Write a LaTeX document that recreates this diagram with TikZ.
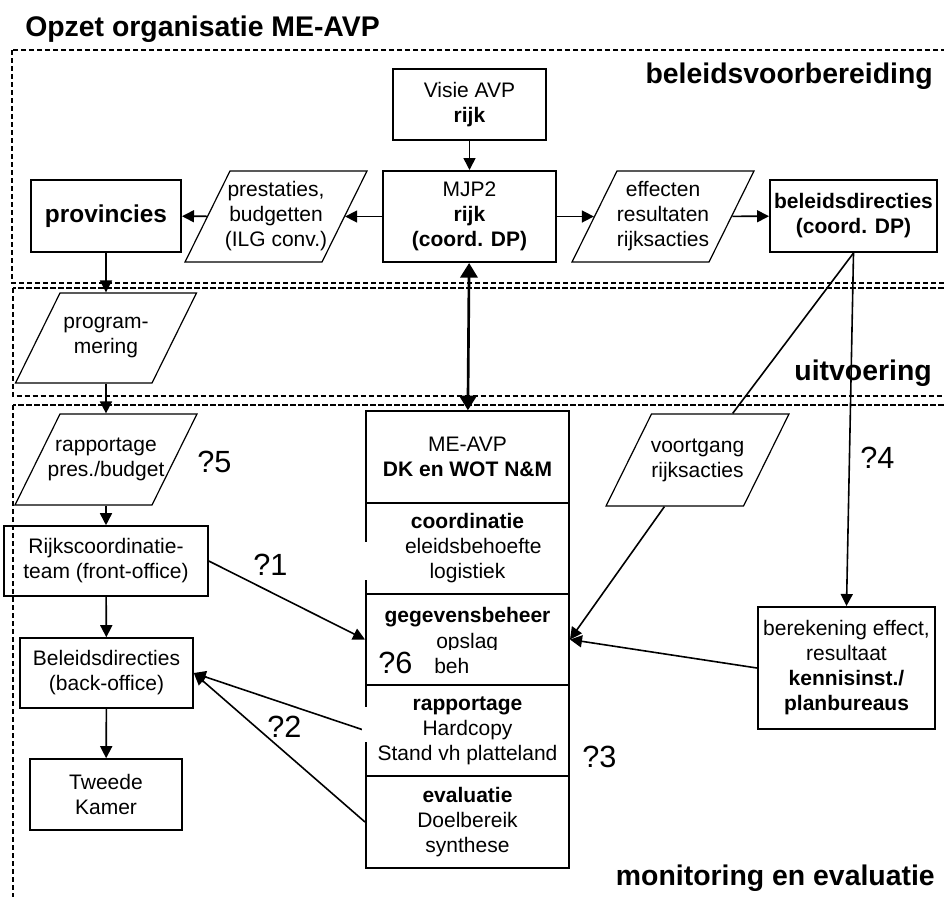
\documentclass[tikz,border=0pt]{standalone}
\usepackage{fontspec}
\setmainfont{Liberation Sans}
\usetikzlibrary{shapes.geometric,arrows.meta}
\newcommand\txt{\fontsize{15.75}{18.75}\selectfont}
\newcommand\bigtxt{\fontsize{21.3}{25}\selectfont\bfseries}
\newcommand\qtxt{\fontsize{23}{27}\selectfont}

\begin{document}
\begin{tikzpicture}[
    x=0.75pt, y=-0.75pt,
    >={Triangle[length=9pt,width=9pt]},
    box/.style={rectangle, draw, line width=1.5pt, align=center, font=\txt, inner sep=0pt},
    cell/.style={box, minimum width=152.25pt, minimum height=68.6pt},
    iobox/.style={trapezium, trapezium left angle=63.7, trapezium right angle=116.3,
        draw, fill=white, line width=0.9pt, inner xsep=34.5pt, inner ysep=0pt, text height=34.125pt, text depth=34.125pt},
    every label/.style={font=\txt, align=center, inner sep=0pt, text height=, text depth=},
    zone/.style={draw, line width=1.5pt, dash pattern=on 4pt off 2pt},
    zonetitle/.style={font=\bigtxt, anchor=base east, inner sep=0pt},
    flow/.style={->, line width=1.2pt},
    qmark/.style={font=\qtxt, anchor=base west, inner sep=0pt}
]
\clip (0,0) rectangle (944,896);

\draw[zone] (12,50) rectangle (950,283);
\draw[zone] (12.5,288) rectangle (950,396);
\draw[zone] (12.5,405) rectangle (950,905);

\node[font=\bigtxt, anchor=base west, inner sep=0pt] (title) at (25,36) {Opzet organisatie ME-AVP};
\node[zonetitle] (zone1) at (933,83) {beleidsvoorbereiding};
\node[zonetitle] (zone2) at (932,380) {uitvoering};
\node[zonetitle] (zone3) at (935,885) {monitoring en evaluatie};

\node[box, minimum width=114.75pt, minimum height=53.25pt] (visie) at (469.5,104.5) {Visie AVP\\\textbf{rijk}};
\node[box, minimum width=129.75pt, minimum height=68.25pt] (mjp) at (469.5,216.5) {MJP2\\\textbf{rijk}\\\textbf{(coord. DP)}};
\node[iobox, label=center:{prestaties,\\budgetten\\(ILG conv.)}] (prest) at (276,216.5) {};
\node[box, font=\fontsize{18.3}{22}\selectfont\bfseries, minimum width=112.5pt, minimum height=54pt] (prov) at (106,216) {provincies};
\node[iobox, label=center:{effecten\\resultaten\\rijksacties}] (eff) at (663,216.5) {};
\node[box, font=\txt\bfseries, minimum width=125.25pt, minimum height=54pt] (bd) at (853.5,216) {beleidsdirecties\\(coord. DP)};

\node[iobox, text height=33.75pt, text depth=33.75pt, label=center:{program-\\mering}] (prog) at (106,338) {};
\node[iobox, label=center:{rapportage\\pres./budget}] (rapp) at (106,459.5) {};
\node[box, line width=1.2pt, minimum width=153pt, minimum height=52.5pt] (rc) at (106,561) {Rijkscoordinatie-\\team (front-office)};
\node[box, line width=1.2pt, minimum width=129.75pt, minimum height=52.5pt] (bo) at (106.5,673) {Beleidsdirecties\\(back-office)};
\node[box, line width=1.2pt, minimum width=114pt, minimum height=53.25pt] (tk) at (106,794.5) {Tweede\\Kamer};

\node[cell] (me) at (467.5,457) {ME-AVP\\\textbf{DK en WOT N\&M}};
\node[cell] (coord) at (467.5,548.5) {\textbf{coordinatie}\\\hphantom{b}eleidsbehoefte\\logistiek};
\node[cell] (geg) at (467.5,639.5) {};
\node[cell] (rap) at (467.5,730.5) {\textbf{rapportage}\\Hardcopy\\Stand vh platteland};
\node[cell] (eva) at (467.5,822) {\textbf{evaluatie}\\Doelbereik\\synthese};
\node[font=\txt\bfseries, anchor=base, inner sep=0pt] (gegtitle) at (467.5,622) {gegevensbeheer};
\begin{scope}
\clip (420,625) rectangle (520,649.5);
\node[font=\txt, anchor=base west, inner sep=0pt] (opslag) at (436,648) {opslag};
\end{scope}
\node[font=\txt, anchor=base west, inner sep=0pt] (beh) at (434,673) {beh};

\node[iobox, text height=34.5pt, text depth=34.5pt, label=center:{voortgang\\rijksacties}] (vg) at (697.5,460) {};
\node[box, minimum width=132.75pt, minimum height=91.5pt] (bk) at (846.5,668) {berekening effect,\\resultaat\\\textbf{kennisinst./}\\\textbf{planbureaus}};

\node[qmark] (q1) at (253,575) {?1};
\node[qmark] (q2) at (267,737) {?2};
\node[qmark] (q3) at (582,767) {?3};
\node[qmark] (q4) at (860,468) {?4};
\node[qmark] (q5) at (197,472) {?5};
\node[qmark] (q6) at (378,673) {?6};

\draw[flow] (visie) -- (mjp);
\draw[flow] (mjp) -- (prest);
\draw[flow] (prest) -- (prov);
\draw[flow] (mjp) -- (eff);
\draw[flow] (eff) -- (bd);
\draw[flow] (prov) -- (prog);
\draw[flow] (prog) -- (rapp);
\draw[flow] (rapp) -- (rc);
\draw[flow] (rc) -- (bo);
\draw[flow] (bo) -- (tk);
\draw[<->, line width=2pt, >={Triangle[length=11pt,width=13pt]}] (mjp) -- (me);
\draw[flow] (rc.east) -- (geg.west);
\draw[flow] (rap.west) -- (bo.east);
\draw[flow] (eva.west) -- (bo.east);
\draw[line width=1.2pt] (bd.south) -- (vg);
\draw[flow] (vg) -- (geg.east);
\draw[flow] (bd.south) -- (bk.north);
\draw[flow] (bk.west) -- (geg.east);

\fill[white] (355,542) rectangle (402,580);
\fill[white] (362,707) rectangle (371,742);
\end{tikzpicture}
\end{document}
